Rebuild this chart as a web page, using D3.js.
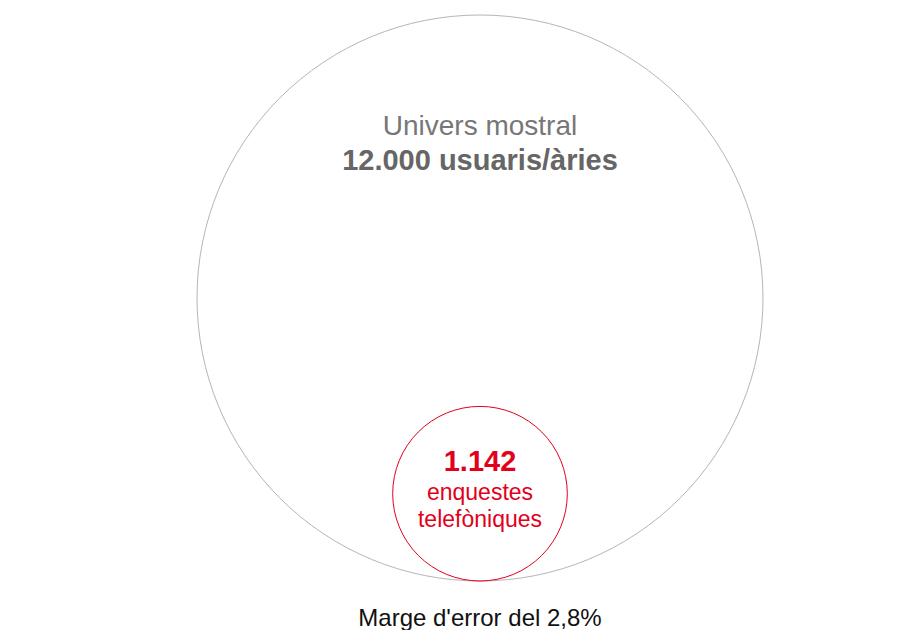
<!DOCTYPE html>
<html><head><meta charset="utf-8">
<script src="https://cdn.jsdelivr.net/npm/d3@7"></script>
<style>html,body{margin:0;padding:0;background:#fff;}svg{display:block;}</style>
</head><body>
<svg id="chart" width="906" height="630"></svg>
<script>
const categories = ["Univers mostral", "enquestes telefòniques"];
const values = [12000, 1142];
const valueLabels = ["12.000", "1.142"];
const footnote = "Marge d'error del 2,8%";

const svg = d3.select("#chart");
const cx = 480, baseY = 581;
const r = d3.scaleSqrt().domain([0, values[0]]).range([0, 283]);
const colors = ["#b5b5b5", "#e2001a"];
const font = "'Liberation Sans', Arial, Helvetica, sans-serif";

svg.selectAll("circle.c").data(values).join("circle")
  .attr("class", "c")
  .attr("cx", cx)
  .attr("cy", d => baseY - r(d))
  .attr("r", d => r(d))
  .attr("fill", "none")
  .attr("stroke", (d, i) => colors[i])
  .attr("stroke-width", 1);

const g = svg.append("g").attr("font-family", font).attr("text-anchor", "middle");

g.append("text").attr("x", cx).attr("y", 135)
  .attr("font-size", 28).attr("fill", "#777")
  .text(categories[0]);
g.append("text").attr("x", cx).attr("y", 170)
  .attr("font-size", 29).attr("fill", "#666").attr("font-weight", "bold")
  .text(valueLabels[0] + " usuaris/àries");

g.append("text").attr("x", cx).attr("y", 471)
  .attr("font-size", 29).attr("fill", colors[1]).attr("font-weight", "bold")
  .text(valueLabels[1]);
const words = categories[1].split(" ");
g.selectAll("text.sub").data(words).join("text")
  .attr("class", "sub")
  .attr("x", cx).attr("y", (d, i) => 500 + i * 27)
  .attr("font-size", 23).attr("fill", colors[1])
  .text(d => d);

g.append("text").attr("x", cx).attr("y", 626)
  .attr("font-size", 24).attr("fill", "#111")
  .text(footnote);
</script>
</body></html>
